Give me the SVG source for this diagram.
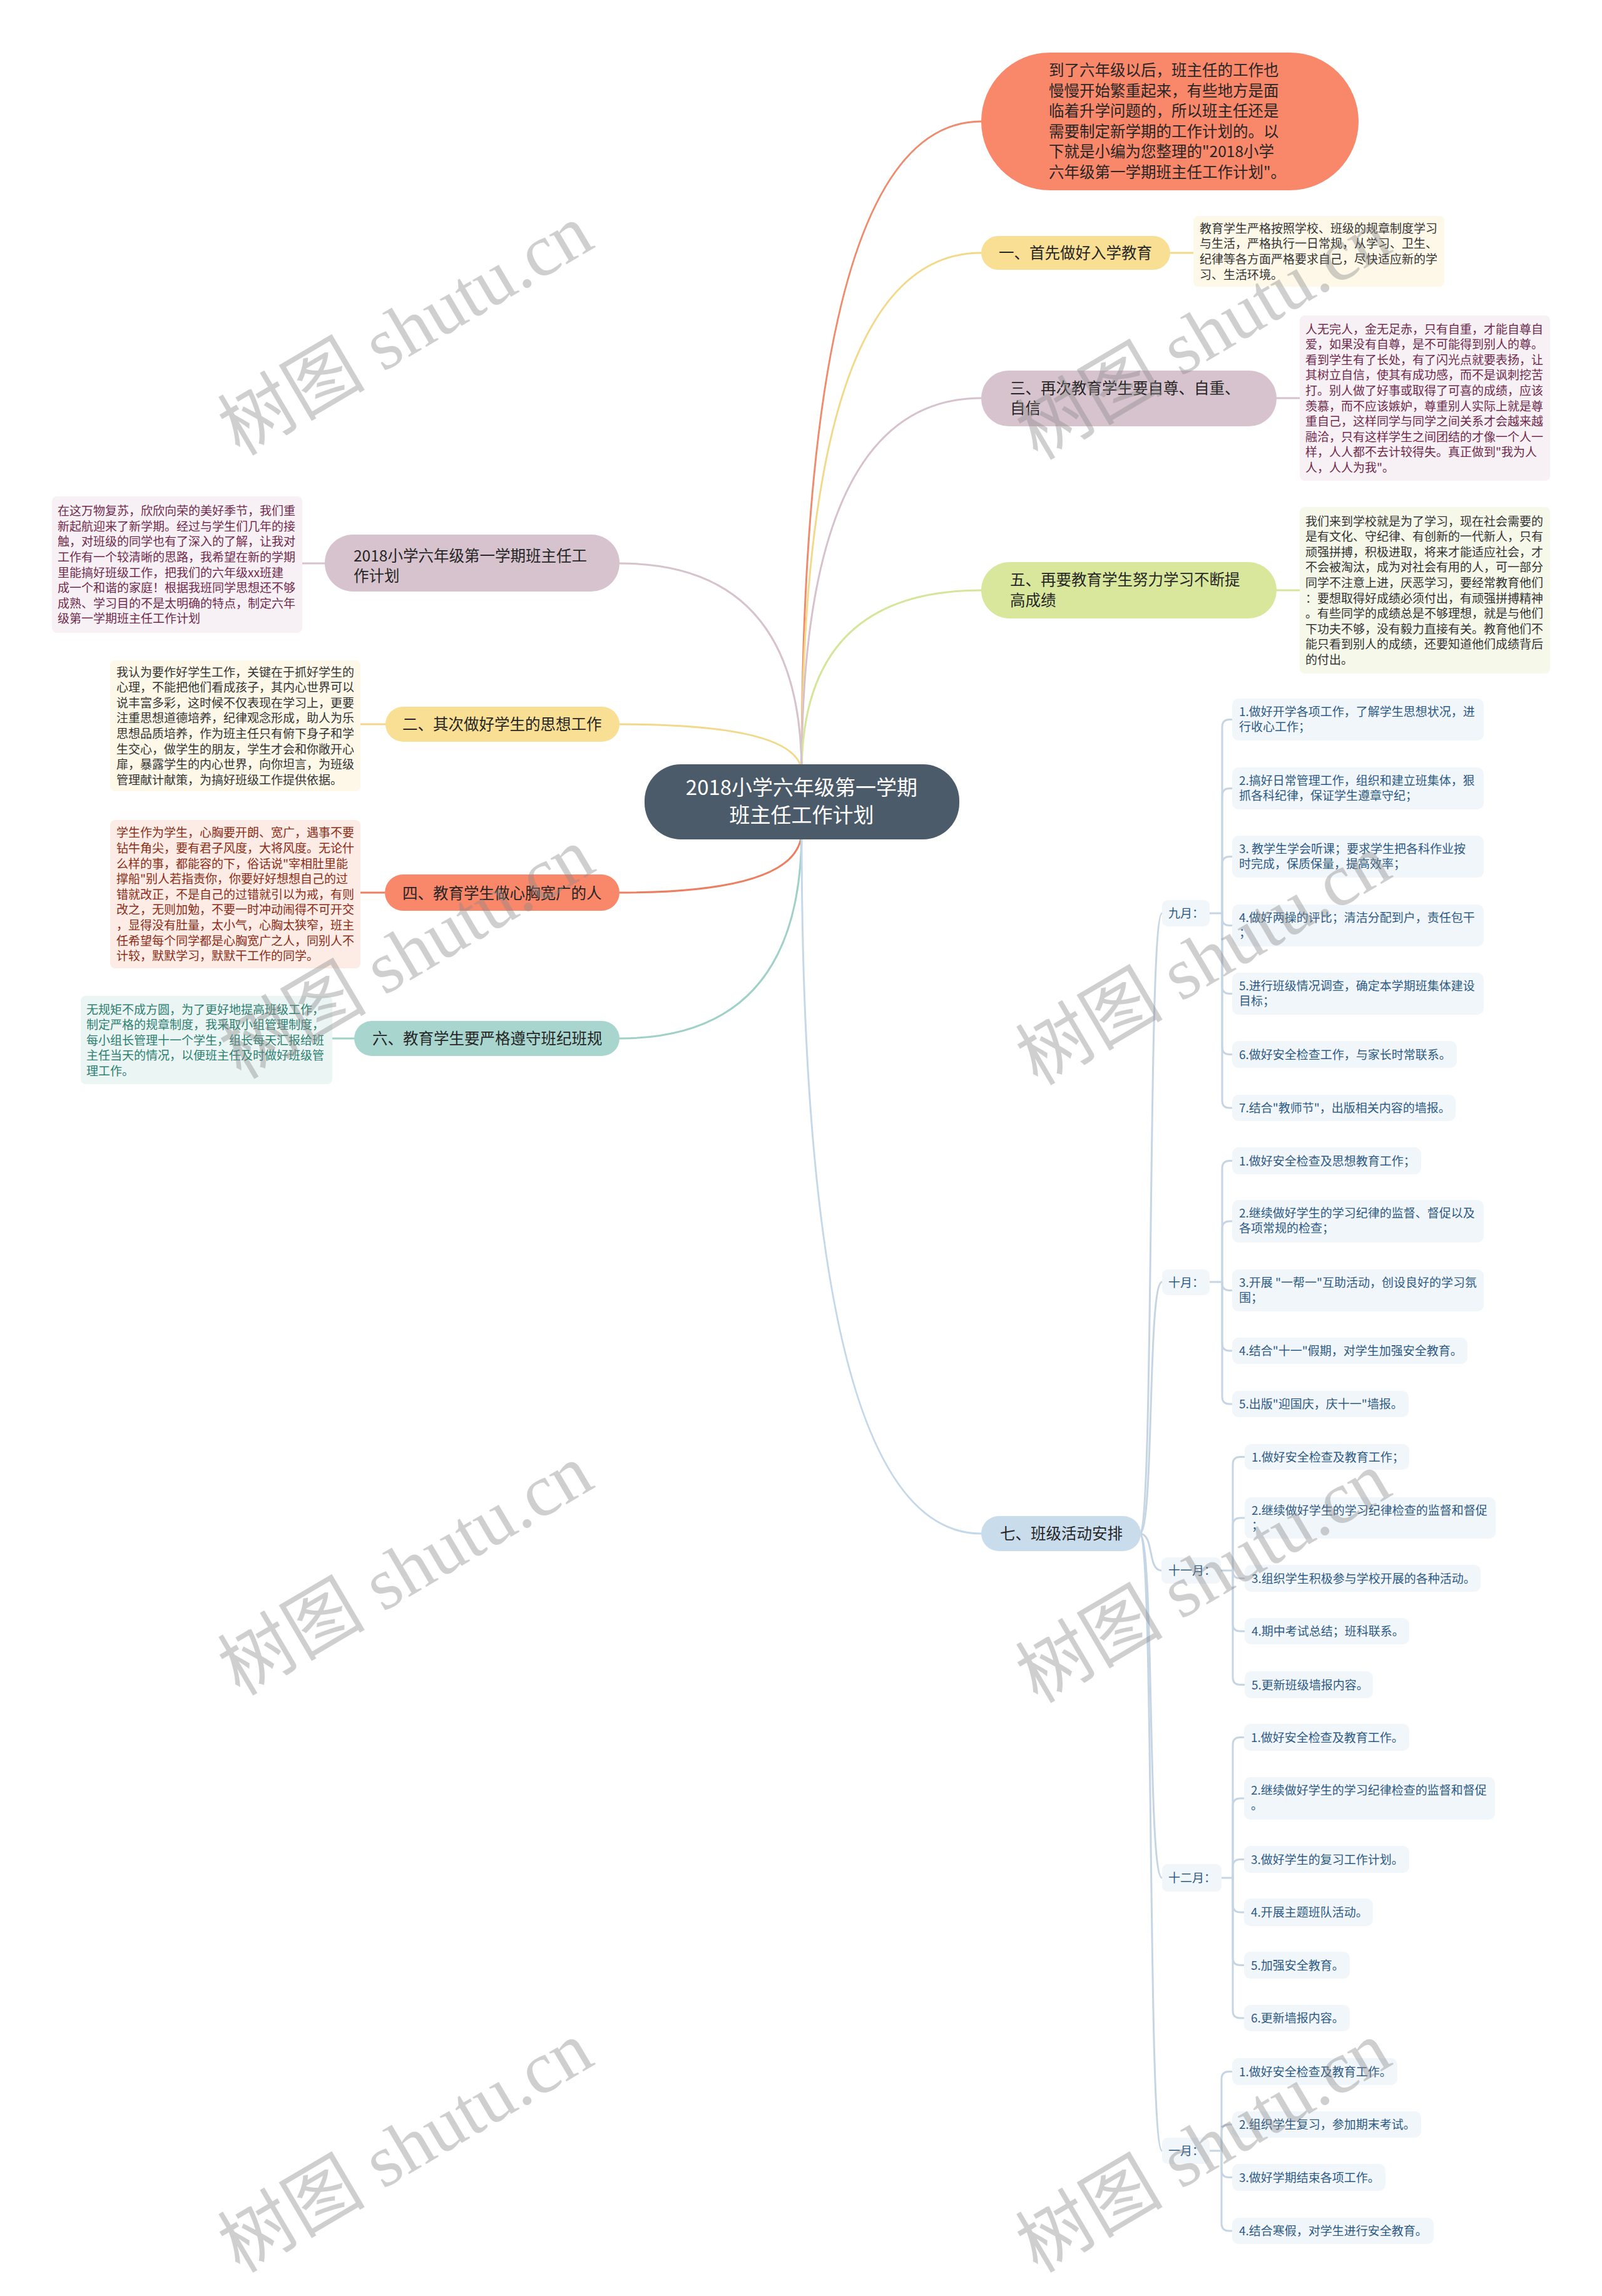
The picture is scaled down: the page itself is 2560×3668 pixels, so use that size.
<svg xmlns="http://www.w3.org/2000/svg" width="2560" height="3668" viewBox="0 0 2560 3668">
<style>
text{font-family:"Noto Sans CJK SC","Noto Sans",sans-serif}
.ctr{font-size:33px;fill:#ffffff}
.br{font-size:24.5px;fill:#262626}
.lf{font-size:19px;fill:#333333}
.lfp{font-size:19px;fill:#6f2a4c}
.lfr{font-size:19px;fill:#8a2b17}
.lft{font-size:19px;fill:#2c7f70}
.itm{font-size:19px;fill:#2c5a85}
.ib{fill:#f1f6fa}
.cn path{fill:none;stroke-width:3;stroke-linecap:round}
.mc path{stroke:#c5d5e4}
.wm{font-family:"Liberation Serif","Noto Sans CJK SC",serif;font-size:118px;fill:#8a8a8a;opacity:.4}
</style>
<rect width="2560" height="3668" fill="#ffffff"/>
<g id="connectors" class="cn">
<path d="M1281 1235 Q1281 194 1568 194" stroke="#ef8a6d"/>
<path d="M1281 1235 Q1281 404 1568 404" stroke="#f2d98a"/>
<path d="M1281 1235 Q1281 636 1568 636" stroke="#d6c1cc"/>
<path d="M1281 1235 Q1281 943 1568 943" stroke="#d5e59a"/>
<path d="M1281 1235 Q1281 900 990 900" stroke="#d6c3cd"/>
<path d="M1281 1235 Q1281 1157 990 1157" stroke="#f2d98a"/>
<path d="M1281 1328 Q1281 1426 990 1426" stroke="#ec7f60"/>
<path d="M1281 1328 Q1281 1659 990 1659" stroke="#9fd1c8"/>
<path d="M1281 1328 Q1281 2450 1568 2450" stroke="#c5d8e9"/>
<path d="M1870 404 H1907" stroke="#f2d98a"/>
<path d="M2040 636 H2077" stroke="#d6c1cc"/>
<path d="M2040 943 H2077" stroke="#d5e59a"/>
<path d="M519 900 H483" stroke="#d6c3cd"/>
<path d="M616 1157 H576" stroke="#f2d98a"/>
<path d="M615 1426 H576" stroke="#ec7f60"/>
<path d="M566 1659 H531" stroke="#9fd1c8"/>
<g class="mc">
<path d="M1821 2450 C1845 2450 1833 1459 1857 1459"/>
<path d="M1821 2450 C1845 2450 1833 2048 1857 2048"/>
<path d="M1821 2450 C1845 2450 1833 2509 1856 2509"/>
<path d="M1821 2450 C1845 2450 1833 3000 1857 3000"/>
<path d="M1821 2450 C1845 2450 1833 3436 1857 3436"/>
<path d="M1933 1459 H1953"/>
<path d="M1953 1459 V1161.5 Q1953 1149.5 1965 1149.5 H1969"/>
<path d="M1953 1459 V1271.5 Q1953 1259.5 1965 1259.5 H1969"/>
<path d="M1953 1459 V1380.5 Q1953 1368.5 1965 1368.5 H1969"/>
<path d="M1953 1459 V1466.5 Q1953 1478.5 1965 1478.5 H1969"/>
<path d="M1953 1459 V1575.5 Q1953 1587.5 1965 1587.5 H1969"/>
<path d="M1953 1459 V1672.5 Q1953 1684.5 1965 1684.5 H1969"/>
<path d="M1953 1459 V1758 Q1953 1770 1965 1770 H1969"/>
<path d="M1933 2048 H1953"/>
<path d="M1953 2048 V1866.5 Q1953 1854.5 1965 1854.5 H1969"/>
<path d="M1953 2048 V1963 Q1953 1951 1965 1951 H1969"/>
<path d="M1953 2048 V2049.5 Q1953 2061.5 1965 2061.5 H1969"/>
<path d="M1953 2048 V2146 Q1953 2158 1965 2158 H1969"/>
<path d="M1953 2048 V2231 Q1953 2243 1965 2243 H1969"/>
<path d="M1951 2509 H1970"/>
<path d="M1970 2509 V2339.5 Q1970 2327.5 1982 2327.5 H1989"/>
<path d="M1970 2509 V2437 Q1970 2425 1982 2425 H1989"/>
<path d="M1970 2509 V2509.5 Q1970 2521.5 1982 2521.5 H1989"/>
<path d="M1970 2509 V2594 Q1970 2606 1982 2606 H1989"/>
<path d="M1970 2509 V2679.5 Q1970 2691.5 1982 2691.5 H1989"/>
<path d="M1952 3000 H1970"/>
<path d="M1970 3000 V2787.5 Q1970 2775.5 1982 2775.5 H1988"/>
<path d="M1970 3000 V2885 Q1970 2873 1982 2873 H1988"/>
<path d="M1970 3000 V2982.5 Q1970 2970.5 1982 2970.5 H1988"/>
<path d="M1970 3000 V3043 Q1970 3055 1982 3055 H1988"/>
<path d="M1970 3000 V3127.5 Q1970 3139.5 1982 3139.5 H1988"/>
<path d="M1970 3000 V3212 Q1970 3224 1982 3224 H1988"/>
<path d="M1933 3436 H1952"/>
<path d="M1952 3436 V3321.5 Q1952 3309.5 1964 3309.5 H1969"/>
<path d="M1952 3436 V3406 Q1952 3394 1964 3394 H1969"/>
<path d="M1952 3436 V3466.5 Q1952 3478.5 1964 3478.5 H1969"/>
<path d="M1952 3436 V3552 Q1952 3564 1964 3564 H1969"/>
</g>
</g>

<g id="center">
<rect x="1030" y="1221" width="503" height="120" rx="58" fill="#4b5b69"/>
<text class="ctr" x="1281" y="1269.5" text-anchor="middle">2018小学六年级第一学期</text>
<text class="ctr" x="1281" y="1313.5" text-anchor="middle">班主任工作计划</text>
</g>

<g id="intro">
<rect x="1568" y="84" width="603" height="220" rx="110" fill="#f9876a"/>
<text class="br" x="1676"><tspan x="1676" y="121.3">到了六年级以后，班主任的工作也</tspan><tspan x="1676" y="153.8">慢慢开始繁重起来，有些地方是面</tspan><tspan x="1676" y="186.3">临着升学问题的，所以班主任还是</tspan><tspan x="1676" y="218.8">需要制定新学期的工作计划的。以</tspan><tspan x="1676" y="251.3">下就是小编为您整理的"2018小学</tspan><tspan x="1676" y="283.8">六年级第一学期班主任工作计划"。</tspan></text>
</g>

<g id="b1">
<rect x="1568" y="377" width="302" height="54" rx="27" fill="#f8df94"/>
<text class="br" x="1596" y="413.3">一、首先做好入学教育</text>
</g>
<g id="b1-leaf">
<rect x="1907" y="345" width="401" height="113" rx="8" fill="#fdf8e8"/>
<text class="lf"><tspan x="1917" y="371.8">教育学生严格按照学校、班级的规章制度学习</tspan><tspan x="1917" y="396.4">与生活，严格执行一日常规，从学习、卫生、</tspan><tspan x="1917" y="421">纪律等各方面严格要求自己，尽快适应新的学</tspan><tspan x="1917" y="445.6">习、生活环境。</tspan></text>
</g>

<g id="b3">
<rect x="1568" y="592" width="472" height="89" rx="44" fill="#d7c3cd"/>
<text class="br"><tspan x="1614" y="629.3">三、再次教育学生要自尊、自重、</tspan><tspan x="1614" y="661.3">自信</tspan></text>
</g>
<g id="b3-leaf">
<rect x="2077" y="504" width="400" height="264" rx="8" fill="#f7f0f4"/>
<text class="lfp"><tspan x="2086" y="532.5">人无完人，金无足赤，只有自重，才能自尊自</tspan><tspan x="2086" y="557.1">爱，如果没有自尊，是不可能得到别人的尊。</tspan><tspan x="2086" y="581.7">看到学生有了长处，有了闪光点就要表扬，让</tspan><tspan x="2086" y="606.3">其树立自信，使其有成功感，而不是讽刺挖苦</tspan><tspan x="2086" y="630.9">打。别人做了好事或取得了可喜的成绩，应该</tspan><tspan x="2086" y="655.5">羡慕，而不应该嫉妒，尊重别人实际上就是尊</tspan><tspan x="2086" y="680.1">重自己，这样同学与同学之间关系才会越来越</tspan><tspan x="2086" y="704.7">融洽，只有这样学生之间团结的才像一个人一</tspan><tspan x="2086" y="729.3">样，人人都不去计较得失。真正做到"我为人</tspan><tspan x="2086" y="753.9">人，人人为我"。</tspan></text>
</g>

<g id="b5">
<rect x="1568" y="898" width="472" height="90" rx="45" fill="#d8e79c"/>
<text class="br"><tspan x="1614" y="935.3">五、再要教育学生努力学习不断提</tspan><tspan x="1614" y="968.3">高成绩</tspan></text>
</g>
<g id="b5-leaf">
<rect x="2077" y="810" width="400" height="266" rx="8" fill="#f6f8ea"/>
<text class="lf"><tspan x="2086" y="839.5">我们来到学校就是为了学习，现在社会需要的</tspan><tspan x="2086" y="864.1">是有文化、守纪律、有创新的一代新人，只有</tspan><tspan x="2086" y="888.7">顽强拼搏，积极进取，将来才能适应社会，才</tspan><tspan x="2086" y="913.3">不会被淘汰，成为对社会有用的人，可一部分</tspan><tspan x="2086" y="937.9">同学不注意上进，厌恶学习，要经常教育他们</tspan><tspan x="2086" y="962.5">：要想取得好成绩必须付出，有顽强拼搏精神</tspan><tspan x="2086" y="987.1">。有些同学的成绩总是不够理想，就是与他们</tspan><tspan x="2086" y="1011.7">下功夫不够，没有毅力直接有关。教育他们不</tspan><tspan x="2086" y="1036.3">能只看到别人的成绩，还要知道他们成绩背后</tspan><tspan x="2086" y="1060.9">的付出。</tspan></text>
</g>

<g id="bl">
<rect x="519" y="854" width="471" height="91" rx="45" fill="#d7c3cd"/>
<text class="br"><tspan x="565" y="897.3">2018小学六年级第一学期班主任工</tspan><tspan x="565" y="929.3">作计划</tspan></text>
</g>
<g id="bl-leaf">
<rect x="83" y="793" width="400" height="218" rx="8" fill="#f7f0f4"/>
<text class="lfp"><tspan x="92" y="823.1">在这万物复苏，欣欣向荣的美好季节，我们重</tspan><tspan x="92" y="847.7">新起航迎来了新学期。经过与学生们几年的接</tspan><tspan x="92" y="872.3">触，对班级的同学也有了深入的了解，让我对</tspan><tspan x="92" y="896.9">工作有一个较清晰的思路，我希望在新的学期</tspan><tspan x="92" y="921.5">里能搞好班级工作，把我们的六年级xx班建</tspan><tspan x="92" y="946.1">成一个和谐的家庭！根据我班同学思想还不够</tspan><tspan x="92" y="970.7">成熟、学习目的不是太明确的特点，制定六年</tspan><tspan x="92" y="995.3">级第一学期班主任工作计划</tspan></text>
</g>

<g id="b2">
<rect x="616" y="1129" width="374" height="56" rx="28" fill="#f8df94"/>
<text class="br" x="643" y="1166.3">二、其次做好学生的思想工作</text>
</g>
<g id="b2-leaf">
<rect x="176" y="1055" width="400" height="209" rx="8" fill="#fdf8e8"/>
<text class="lf"><tspan x="186" y="1080.6">我认为要作好学生工作，关键在于抓好学生的</tspan><tspan x="186" y="1105.2">心理，不能把他们看成孩子，其内心世界可以</tspan><tspan x="186" y="1129.8">说丰富多彩，这时候不仅表现在学习上，更要</tspan><tspan x="186" y="1154.4">注重思想道德培养，纪律观念形成，助人为乐</tspan><tspan x="186" y="1179">思想品质培养，作为班主任只有俯下身子和学</tspan><tspan x="186" y="1203.6">生交心，做学生的朋友，学生才会和你敞开心</tspan><tspan x="186" y="1228.2">扉，暴露学生的内心世界，向你坦言，为班级</tspan><tspan x="186" y="1252.8">管理献计献策，为搞好班级工作提供依据。</tspan></text>
</g>

<g id="b4">
<rect x="615" y="1397" width="375" height="58" rx="29" fill="#f9876a"/>
<text class="br" x="643" y="1435.5">四、教育学生做心胸宽广的人</text>
</g>
<g id="b4-leaf">
<rect x="176" y="1310" width="400" height="237" rx="8" fill="#fdebe5"/>
<text class="lfr"><tspan x="186" y="1337.3">学生作为学生，心胸要开朗、宽广，遇事不要</tspan><tspan x="186" y="1361.9">钻牛角尖，要有君子风度，大将风度。无论什</tspan><tspan x="186" y="1386.5">么样的事，都能容的下，俗话说"宰相肚里能</tspan><tspan x="186" y="1411.1">撑船"别人若指责你，你要好好想想自己的过</tspan><tspan x="186" y="1435.7">错就改正，不是自己的过错就引以为戒，有则</tspan><tspan x="186" y="1460.3">改之，无则加勉，不要一时冲动闹得不可开交</tspan><tspan x="186" y="1484.9">，显得没有肚量，太小气，心胸太狭窄，班主</tspan><tspan x="186" y="1509.5">任希望每个同学都是心胸宽广之人，同别人不</tspan><tspan x="186" y="1534.1">计较，默默学习，默默干工作的同学。</tspan></text>
</g>

<g id="b6">
<rect x="566" y="1631" width="424" height="56" rx="28" fill="#a8d6cf"/>
<text class="br" x="595" y="1668.3">六、教育学生要严格遵守班纪班规</text>
</g>
<g id="b6-leaf">
<rect x="129" y="1591" width="402" height="141" rx="8" fill="#ebf5f3"/>
<text class="lft"><tspan x="138" y="1619.5">无规矩不成方圆，为了更好地提高班级工作，</tspan><tspan x="138" y="1644.1">制定严格的规章制度，我采取小组管理制度，</tspan><tspan x="138" y="1668.7">每小组长管理十一个学生，组长每天汇报给班</tspan><tspan x="138" y="1693.3">主任当天的情况，以便班主任及时做好班级管</tspan><tspan x="138" y="1717.9">理工作。</tspan></text>
</g>

<g id="b7">
<rect x="1568" y="2422" width="255" height="56" rx="28" fill="#c9dcec"/>
<text class="br" x="1598" y="2459.3">七、班级活动安排</text>
</g>

<g id="m9">
<rect class="ib" x="1857" y="1438" width="76" height="42" rx="9"/>
<text class="itm" x="1867" y="1466.2">九月：</text>
</g>
<g id="m9-items">
<rect class="ib" x="1969" y="1116" width="402" height="67" rx="10"/>
<text class="itm"><tspan x="1980" y="1144">1.做好开学各项工作，了解学生思想状况，进</tspan><tspan x="1980" y="1168">行收心工作；</tspan></text>
<rect class="ib" x="1969" y="1226" width="402" height="67" rx="10"/>
<text class="itm"><tspan x="1980" y="1254">2.搞好日常管理工作，组织和建立班集体，狠</tspan><tspan x="1980" y="1278">抓各科纪律，保证学生遵章守纪；</tspan></text>
<rect class="ib" x="1969" y="1335" width="402" height="67" rx="10"/>
<text class="itm"><tspan x="1980" y="1363">3. 教学生学会听课；要求学生把各科作业按</tspan><tspan x="1980" y="1387">时完成，保质保量，提高效率；</tspan></text>
<rect class="ib" x="1969" y="1445" width="402" height="67" rx="10"/>
<text class="itm"><tspan x="1980" y="1473">4.做好两操的评比；清洁分配到户，责任包干</tspan><tspan x="1980" y="1497">；</tspan></text>
<rect class="ib" x="1969" y="1554" width="402" height="67" rx="10"/>
<text class="itm"><tspan x="1980" y="1582">5.进行班级情况调查，确定本学期班集体建设</tspan><tspan x="1980" y="1606">目标；</tspan></text>
<rect class="ib" x="1969" y="1663" width="359" height="43" rx="10"/>
<text class="itm" x="1980" y="1691.7">6.做好安全检查工作，与家长时常联系。</text>
<rect class="ib" x="1969" y="1749" width="357" height="42" rx="10"/>
<text class="itm" x="1980" y="1777.2">7.结合"教师节"，出版相关内容的墙报。</text>
</g>

<g id="m10">
<rect class="ib" x="1857" y="2028" width="76" height="41" rx="9"/>
<text class="itm" x="1867" y="2055.7">十月：</text>
</g>
<g id="m10-items">
<rect class="ib" x="1969" y="1833" width="302" height="43" rx="10"/>
<text class="itm" x="1980" y="1861.7">1.做好安全检查及思想教育工作；</text>
<rect class="ib" x="1969" y="1917" width="402" height="68" rx="10"/>
<text class="itm"><tspan x="1980" y="1945">2.继续做好学生的学习纪律的监督、督促以及</tspan><tspan x="1980" y="1969">各项常规的检查；</tspan></text>
<rect class="ib" x="1969" y="2028" width="402" height="67" rx="10"/>
<text class="itm"><tspan x="1980" y="2056">3.开展 "一帮一"互助活动，创设良好的学习氛</tspan><tspan x="1980" y="2080">围；</tspan></text>
<rect class="ib" x="1969" y="2137" width="376" height="42" rx="10"/>
<text class="itm" x="1980" y="2165.2">4.结合"十一"假期，对学生加强安全教育。</text>
<rect class="ib" x="1969" y="2222" width="282" height="42" rx="10"/>
<text class="itm" x="1980" y="2250.2">5.出版"迎国庆，庆十一"墙报。</text>
</g>

<g id="m11">
<rect class="ib" x="1856" y="2488" width="95" height="42" rx="9"/>
<text class="itm" x="1867" y="2516.2">十一月：</text>
</g>
<g id="m11-items">
<rect class="ib" x="1989" y="2307" width="263" height="41" rx="10"/>
<text class="itm" x="2000" y="2334.7">1.做好安全检查及教育工作；</text>
<rect class="ib" x="1989" y="2392" width="401" height="66" rx="10"/>
<text class="itm"><tspan x="2000" y="2420">2.继续做好学生的学习纪律检查的监督和督促</tspan><tspan x="2000" y="2444">；</tspan></text>
<rect class="ib" x="1989" y="2500" width="377" height="43" rx="10"/>
<text class="itm" x="2000" y="2528.7">3.组织学生积极参与学校开展的各种活动。</text>
<rect class="ib" x="1989" y="2585" width="263" height="42" rx="10"/>
<text class="itm" x="2000" y="2613.2">4.期中考试总结；班科联系。</text>
<rect class="ib" x="1989" y="2670" width="205" height="43" rx="10"/>
<text class="itm" x="2000" y="2698.7">5.更新班级墙报内容。</text>
</g>

<g id="m12">
<rect class="ib" x="1857" y="2978" width="95" height="44" rx="9"/>
<text class="itm" x="1867" y="3007.2">十二月：</text>
</g>
<g id="m12-items">
<rect class="ib" x="1988" y="2754" width="264" height="43" rx="10"/>
<text class="itm" x="1999" y="2782.7">1.做好安全检查及教育工作。</text>
<rect class="ib" x="1988" y="2839" width="401" height="68" rx="10"/>
<text class="itm"><tspan x="1999" y="2867">2.继续做好学生的学习纪律检查的监督和督促</tspan><tspan x="1999" y="2891">。</tspan></text>
<rect class="ib" x="1988" y="2949" width="264" height="43" rx="10"/>
<text class="itm" x="1999" y="2977.7">3.做好学生的复习工作计划。</text>
<rect class="ib" x="1988" y="3033" width="206" height="44" rx="10"/>
<text class="itm" x="1999" y="3062.2">4.开展主题班队活动。</text>
<rect class="ib" x="1988" y="3118" width="169" height="43" rx="10"/>
<text class="itm" x="1999" y="3146.7">5.加强安全教育。</text>
<rect class="ib" x="1988" y="3203" width="169" height="42" rx="10"/>
<text class="itm" x="1999" y="3231.2">6.更新墙报内容。</text>
</g>

<g id="m1">
<rect class="ib" x="1857" y="3415" width="76" height="42" rx="9"/>
<text class="itm" x="1867" y="3443.2">一月：</text>
</g>
<g id="m1-items">
<rect class="ib" x="1969" y="3288" width="264" height="43" rx="10"/>
<text class="itm" x="1980" y="3316.7">1.做好安全检查及教育工作。</text>
<rect class="ib" x="1969" y="3373" width="302" height="42" rx="10"/>
<text class="itm" x="1980" y="3401.2">2.组织学生复习，参加期末考试。</text>
<rect class="ib" x="1969" y="3457" width="245" height="43" rx="10"/>
<text class="itm" x="1980" y="3485.7">3.做好学期结束各项工作。</text>
<rect class="ib" x="1969" y="3543" width="322" height="42" rx="10"/>
<text class="itm" x="1980" y="3571.2">4.结合寒假，对学生进行安全教育。</text>
</g>

<g id="watermarks">
<text class="wm" x="648" y="567" text-anchor="middle" transform="rotate(-30.5 648 527)">树图 shutu.cn</text>
<text class="wm" x="1923" y="574" text-anchor="middle" transform="rotate(-30.5 1923 534)">树图 shutu.cn</text>
<text class="wm" x="650" y="1563" text-anchor="middle" transform="rotate(-30.5 650 1523)">树图 shutu.cn</text>
<text class="wm" x="1923" y="1573" text-anchor="middle" transform="rotate(-30.5 1923 1533)">树图 shutu.cn</text>
<text class="wm" x="648" y="2548" text-anchor="middle" transform="rotate(-30.5 648 2508)">树图 shutu.cn</text>
<text class="wm" x="1923" y="2560" text-anchor="middle" transform="rotate(-30.5 1923 2520)">树图 shutu.cn</text>
<text class="wm" x="648" y="3470" text-anchor="middle" transform="rotate(-30.5 648 3430)">树图 shutu.cn</text>
<text class="wm" x="1923" y="3470" text-anchor="middle" transform="rotate(-30.5 1923 3430)">树图 shutu.cn</text>
</g>
</svg>
